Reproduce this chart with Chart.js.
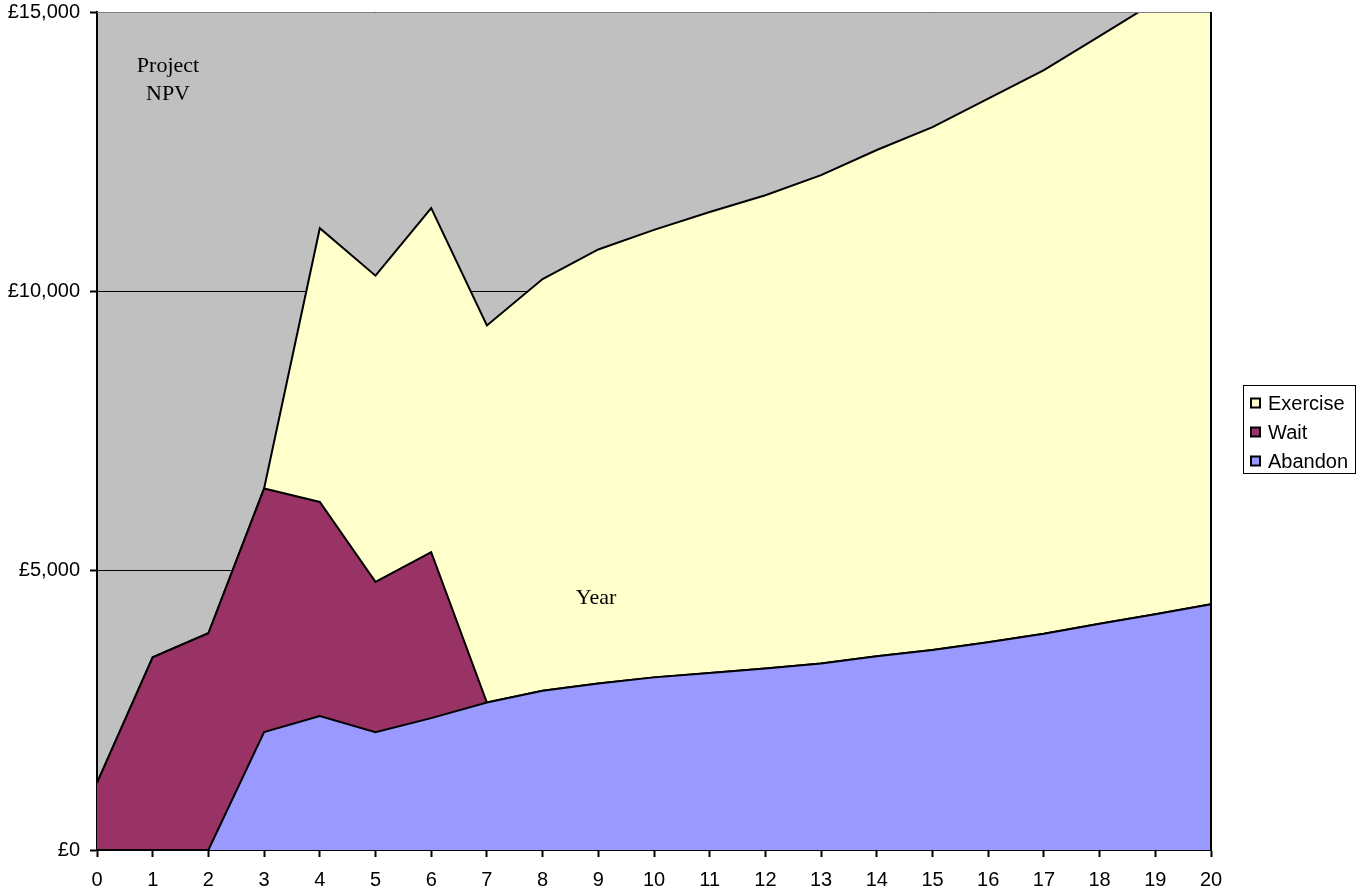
<!DOCTYPE html>
<html>
<head>
<meta charset="utf-8">
<title>Project NPV by year</title>
<script src="https://cdn.jsdelivr.net/npm/chart.js@4.4.1/dist/chart.umd.min.js"></script>
<style>
    html, body { margin: 0; padding: 0; background: #ffffff; }
    #wrap { width: 1361px; height: 893px; }
</style>
</head>
<body>
<div id="wrap">
    <canvas id="npvChart" width="1361" height="893"></canvas>
</div>
<script>
// Years 0..20 and the three stacked option values (GBP)
const years = ['0', '1', '2', '3', '4', '5', '6', '7', '8', '9', '10',
    '11', '12', '13', '14', '15', '16', '17', '18', '19', '20'];

const abandonValues = [0, 0, 0, 2110, 2400, 2110, 2360, 2640, 2850, 2980, 3090,
    3170, 3250, 3340, 3470, 3580, 3720, 3870, 4050, 4220, 4400];

const waitValues = [1200, 3450, 3880, 4360, 3830, 2690, 2970, 0, 0, 0, 0,
    0, 0, 0, 0, 0, 0, 0, 0, 0, 0];

const exerciseValues = [0, 0, 0, 0, 4900, 5480, 6160, 6750, 7370, 7770, 8010,
    8250, 8470, 8740, 9060, 9360, 9730, 10090, 10520, 10960, 11400];

const yTicks = [0, 5000, 10000, 15000];

const legendOrder = ['Exercise', 'Wait', 'Abandon'];

const sansFont = "Arial, 'Liberation Sans', sans-serif";
const serifFont = "'Times New Roman', 'Liberation Serif', serif";

// grey plot background, plot frame, free-floating labels and boxed legend
const decorations = {
    id: 'decorations',
    beforeDraw(chart) {
        const { ctx, chartArea: a } = chart;
        ctx.save();
        ctx.fillStyle = '#c0c0c0';
        ctx.fillRect(a.left, a.top, a.right - a.left, a.bottom - a.top);
        ctx.restore();
    },
    afterDatasetsDraw(chart) {
        const { ctx, chartArea: a } = chart;
        ctx.save();

        ctx.strokeStyle = '#808080';
        ctx.lineWidth = 1;
        ctx.beginPath();
        ctx.moveTo(a.left, a.top + 0.5);
        ctx.lineTo(a.right, a.top + 0.5);
        ctx.stroke();

        ctx.strokeStyle = '#000000';
        ctx.lineWidth = 2;
        ctx.beginPath();
        ctx.moveTo(a.right, a.top);
        ctx.lineTo(a.right, a.bottom);
        ctx.stroke();

        ctx.fillStyle = '#000000';
        ctx.font = '22px ' + serifFont;
        ctx.textAlign = 'center';
        ctx.textBaseline = 'middle';
        ctx.fillText('Project', 168, 66);
        ctx.fillText('NPV', 168, 94);
        ctx.fillText('Year', 596, 598);

        // legend
        const box = { x: 1243.5, y: 385.5, w: 112, h: 88 };
        ctx.fillStyle = '#ffffff';
        ctx.fillRect(box.x, box.y, box.w, box.h);
        ctx.strokeStyle = '#000000';
        ctx.lineWidth = 1;
        ctx.strokeRect(box.x, box.y, box.w, box.h);

        ctx.font = '20px ' + sansFont;
        ctx.textAlign = 'left';
        legendOrder.forEach((name, i) => {
            const ds = chart.data.datasets.find(d => d.label === name);
            const cy = 403 + i * 29;
            ctx.fillStyle = ds.backgroundColor;
            ctx.fillRect(1251, cy - 4.5, 9, 9);
            ctx.lineWidth = 2;
            ctx.strokeRect(1251, cy - 4.5, 9, 9);
            ctx.fillStyle = '#000000';
            ctx.fillText(name, 1268, cy + 1);
        });

        ctx.restore();
    }
};

const areaStyle = {
    borderColor: '#000000',
    borderWidth: 2,
    pointRadius: 0,
    pointHoverRadius: 0,
    tension: 0,
};

new Chart(document.getElementById('npvChart'), {
    type: 'line',

    data: {
        labels: years,
        datasets: [
            {
                label: 'Abandon',
                data: abandonValues,
                backgroundColor: '#9999ff',
                fill: 'origin',
                ...areaStyle,
            },
            {
                label: 'Wait',
                data: waitValues,
                backgroundColor: '#993366',
                fill: '-1',
                ...areaStyle,
            },
            {
                label: 'Exercise',
                data: exerciseValues,
                backgroundColor: '#ffffcc',
                fill: '-1',
                ...areaStyle,
            }
        ]
    },

    options: {
        responsive: false,
        animation: false,
        layout: {
            padding: { top: 0, right: 150, left: 0, bottom: 0 }
        },
        plugins: {
            legend: { display: false },
            tooltip: { enabled: false },
        },
        scales: {
            x: {
                offset: false,
                afterFit(scale) { scale.height = 43; },
                grid: {
                    drawOnChartArea: false,
                    drawTicks: true,
                    tickLength: 7,
                    tickColor: '#000000',
                    tickWidth: 2,
                },
                border: { color: '#000000', width: 2 },
                ticks: {
                    autoSkip: false,
                    maxRotation: 0,
                    padding: 11,
                    color: '#000000',
                    font: { family: sansFont, size: 20 },
                },
            },
            y: {
                stacked: true,
                min: 0,
                max: 15000,
                afterFit(scale) {
                    scale.width = 97;
                    scale.paddingTop = 12;
                },
                afterBuildTicks(scale) {
                    scale.ticks = yTicks.map(v => ({ value: v }));
                },
                grid: {
                    color: '#000000',
                    lineWidth: 1,
                    tickLength: 7,
                    tickColor: '#000000',
                    tickWidth: 2,
                },
                border: { color: '#000000', width: 2 },
                ticks: {
                    padding: 10,
                    color: '#000000',
                    font: { family: sansFont, size: 20 },
                    callback: v => '£' + Number(v).toLocaleString('en-GB'),
                },
            }
        }
    },

    plugins: [decorations]
});
</script>
</body>
</html>
